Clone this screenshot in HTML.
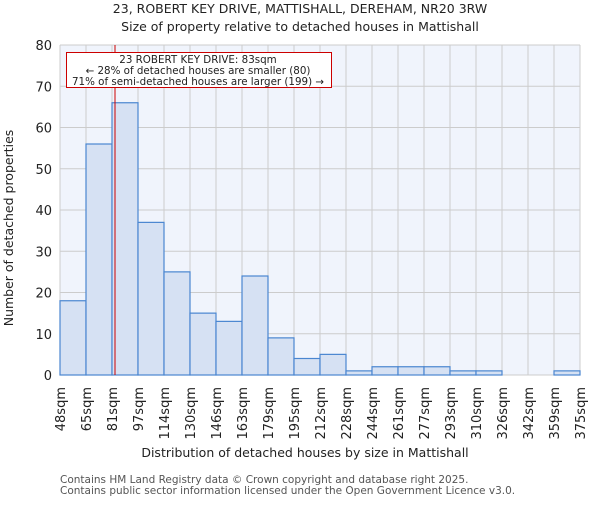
<!DOCTYPE html>
<html><head><meta charset="utf-8"><style>
body{margin:0;background:#fff;}
svg text{font-family:"DejaVu Sans","Liberation Sans",sans-serif;}
</style></head><body>
<svg id="c" width="600" height="500" xmlns="http://www.w3.org/2000/svg">
<text x="300" y="13" text-anchor="middle" font-size="12.5" fill="#222">23, ROBERT KEY DRIVE, MATTISHALL, DEREHAM, NR20 3RW</text>
<text x="300" y="31" text-anchor="middle" font-size="12.5" fill="#222">Size of property relative to detached houses in Mattishall</text>
<rect x="60" y="45" width="520" height="330" fill="#f0f4fc"/>
<g id="grid"></g><g id="bars"></g><g id="axes"></g>
<text transform="translate(13,228) rotate(-90)" text-anchor="middle" font-size="12.5" fill="#222">Number of detached properties</text>
<text x="305" y="457" text-anchor="middle" font-size="12.5" fill="#222">Distribution of detached houses by size in Mattishall</text>
<text x="60" y="483" font-size="10.5" fill="#555">Contains HM Land Registry data © Crown copyright and database right 2025.</text>
<text x="60" y="494" font-size="10.5" fill="#555">Contains public sector information licensed under the Open Government Licence v3.0.</text>
<line x1="115" y1="45" x2="115" y2="375" stroke="#c00" stroke-width="1"/>
<rect x="66.5" y="52.5" width="265" height="35" fill="#fff" stroke="#c00" stroke-width="1"/>
<text x="198" y="63" text-anchor="middle" font-size="10.3" fill="#222">23 ROBERT KEY DRIVE: 83sqm</text>
<text x="198" y="74" text-anchor="middle" font-size="10.3" fill="#222">← 28% of detached houses are smaller (80)</text>
<text x="198" y="85" text-anchor="middle" font-size="10.3" fill="#222">71% of semi-detached houses are larger (199) →</text>
</svg>
<script>
const categories=["48sqm","65sqm","81sqm","97sqm","114sqm","130sqm","146sqm","163sqm","179sqm","195sqm","212sqm","228sqm","244sqm","261sqm","277sqm","293sqm","310sqm","326sqm","342sqm","359sqm","375sqm"];
const counts=[18,56,66,37,25,15,13,24,9,4,5,1,2,2,2,1,1,0,0,1];
const yTicks=[0,10,20,30,40,50,60,70,80];
const NS="http://www.w3.org/2000/svg";
const X0=60,X1=580,Y0=375,Y1=45,YMAX=80;
const bw=(X1-X0)/counts.length;
const xs=i=>X0+i*bw;
const ys=v=>Y0-(v/YMAX)*(Y0-Y1);
function mk(t,a,p){const e=document.createElementNS(NS,t);for(const k in a)e.setAttribute(k,a[k]);p.appendChild(e);return e;}
const g=document.getElementById('grid'),b=document.getElementById('bars'),ax=document.getElementById('axes');
yTicks.forEach(v=>{
 const l=mk('line',{x1:X0,x2:X1,y1:ys(v),y2:ys(v),stroke:'#ccc','stroke-width':1},g);
 
 
 const t=mk('text',{x:X0-8,y:ys(v)+5,'text-anchor':'end','font-size':13,fill:'#222'},ax);
 t.textContent=v;
 
 
});
categories.forEach((c,i)=>{
 const x=xs(i);
 const l=mk('line',{x1:x,x2:x,y1:Y1,y2:Y0,stroke:'#ccc','stroke-width':1},g);
 
 
 const t=mk('text',{transform:`translate(${x+5},${Y0+12}) rotate(-90)`,'text-anchor':'end','font-size':13,fill:'#222'},ax);
 t.textContent=c;
 
 
});
counts.forEach((v,i)=>{
 if(v<=0)return;
 const r=mk('rect',{x:xs(i),y:ys(v),width:bw,height:Y0-ys(v),fill:'#d6e1f3',stroke:'#4a86d0','stroke-width':1.2},b);
 
 
});
</script>
</body></html>
